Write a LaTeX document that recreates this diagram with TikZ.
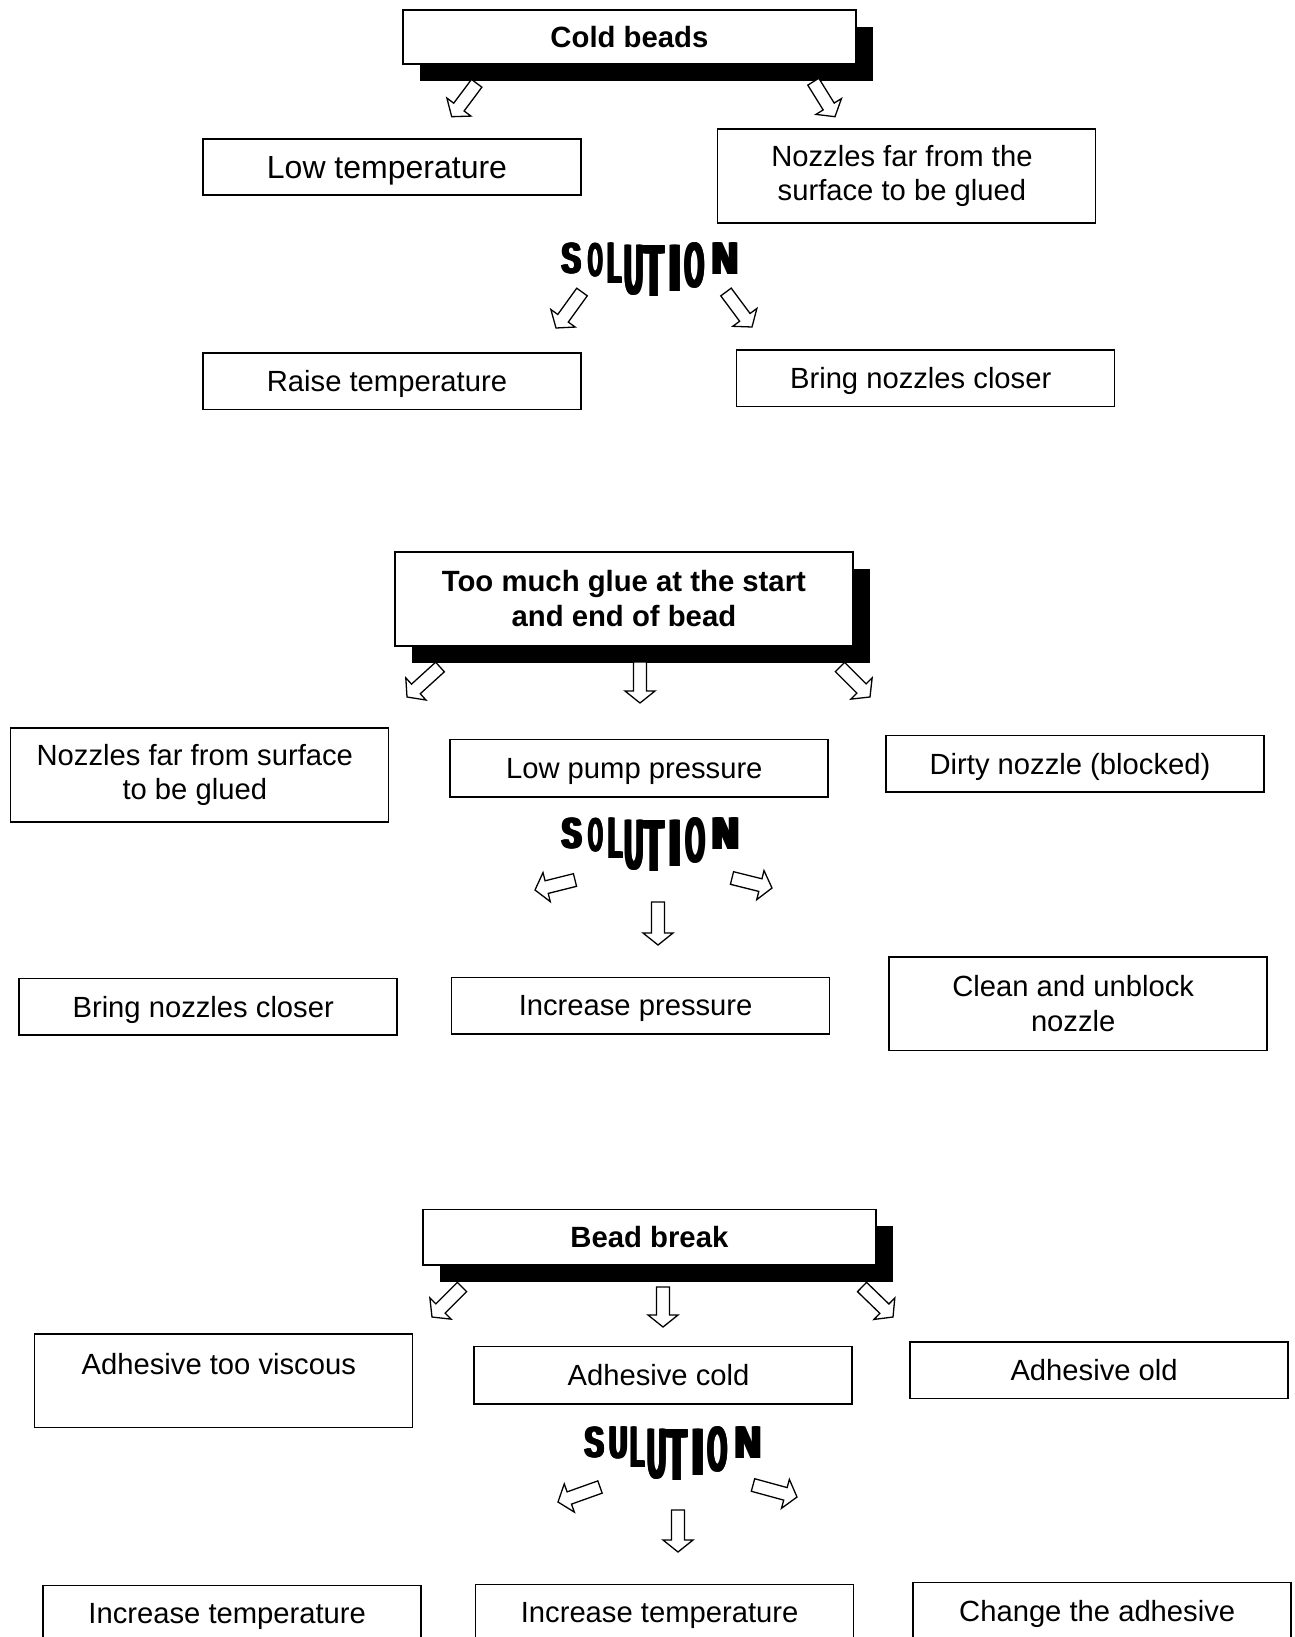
\documentclass[tikz,border=0pt]{standalone}
\usepackage{fontspec}
\setmainfont{Liberation Sans}
\usetikzlibrary{calc,shadows}
\newcommand\boxfont{\fontsize{29.2}{34.5}\selectfont}
\newcommand\titlefont{\fontsize{29.3}{35}\selectfont\bfseries}
\newcommand\solfont{\fontsize{40}{40}\selectfont\bfseries}
\newcommand\lsh[1]{#1\hspace*{9.4pt}}
\newcommand\fatl[1]{\rlap{#1}\rlap{\kern1.25pt#1}\rlap{\kern2.5pt#1}\rlap{\kern3.75pt#1}\kern5pt#1}
\newcommand\blockarr[2]{%
  \coordinate (bah) at ($(#2)!12pt!(#1)$);
  \filldraw[blockarrow] ($(#1)!6.5pt!90:(#2)$) -- ($(bah)!6.5pt!90:(#2)$) -- ($(bah)!15pt!90:(#2)$) -- (#2) -- ($(bah)!15pt!-90:(#2)$) -- ($(bah)!6.5pt!-90:(#2)$) -- ($(#1)!6.5pt!-90:(#2)$) -- cycle;}
\newcommand\solword[6]{% name, dx, dy, second letter, its xscale, its yscale
  \begin{scope}[shift={(#2,#3)}]
    \node[solL] (#1-1) at (571.7,243) {\scalebox{0.72}[1.09]{\fatl{S}}};
    \node[solL] (#1-2) at (595.5,243) {\scalebox{#5}[#6]{\fatl{#4}}};
    \node[solL] (#1-3) at (615,243) {\scalebox{0.56}[1.47]{\fatl{L}}};
    \node[solL] (#1-4) at (634,245) {\scalebox{0.64}[1.79]{\fatl{U}}};
    \node[solL] (#1-5) at (654,245) {\scalebox{0.79}[1.85]{\fatl{T}}};
    \node[solL] (#1-6) at (675,245) {\scalebox{0.94}[1.68]{\fatl{I}}};
    \node[solL] (#1-7) at (695,243) {\scalebox{0.62}[1.6]{\fatl{O}}};
    \node[solL] (#1-8) at (725.5,243) {\scalebox{0.89}[1.15]{\fatl{N}}};
  \end{scope}}
\begin{document}
\begin{tikzpicture}[x=1pt,y=-1pt,
  box/.style={draw, line width=1.6pt, fill=white, align=center, font=\boxfont,
    inner sep=0pt, minimum width=378, minimum height=56.4, text depth=0pt},
  tallbox/.style={draw, line width=1.6pt, fill=white, align=center, font=\boxfont,
    inner sep=0pt, minimum width=378, minimum height=93.5},
  title/.style={draw, line width=1.6pt, fill=white, align=center, font=\titlefont,
    inner sep=0pt, drop shadow={shadow xshift=17pt, shadow yshift=-17pt, fill=black, opacity=1}},
  blockarrow/.style={draw, fill=white, line width=1.3pt, line join=miter},
  solL/.style={anchor=north, inner sep=0pt, font=\solfont}]
\useasboundingbox (0,0) rectangle (1294,1637);
\fill[white] (0,0) rectangle (1294,1637);
\clip (0,0) rectangle (1294,1637);

% ---------- section 1 ----------
\node[title, minimum width=453, minimum height=54] (t1) at (629.4,37) {Cold beads};
\node[box] (lowtemp) at (391.7,167.1) {\fontsize{32}{34.5}\selectfont\lsh{Low temperature}};
\node[tallbox] (nozfar1) at (906.6,176) {\lsh{Nozzles far from the}\\\lsh{surface to be glued}};
\solword{sol1}{0}{0}{O}{0.47}{1.19}
\node[box] (raise) at (391.7,381.2) {\lsh{Raise temperature}};
\node[box] (closer1) at (925.4,378.1) {\lsh{Bring nozzles closer}};
\coordinate (a1s) at (476.7,83.3);  \coordinate (a1e) at (451.7,116.7);
\coordinate (a2s) at (813.3,81.7);  \coordinate (a2e) at (835,116.7);
\coordinate (s1as) at (582,292);    \coordinate (s1ae) at (556,328);
\coordinate (s1bs) at (726,292);    \coordinate (s1be) at (752,327);
\blockarr{a1s}{a1e}
\blockarr{a2s}{a2e}
\blockarr{s1as}{s1ae}
\blockarr{s1bs}{s1be}

% ---------- section 2 ----------
\node[title, minimum width=458, minimum height=94.4] (t2) at (623.9,599) {Too much glue at the start\\and end of bead};
\node[tallbox] (nozfar2) at (199.5,775) {\lsh{Nozzles far from surface}\\\lsh{to be glued}};
\node[box, minimum height=57.5] (lowpump) at (639,768.2) {\lsh{Low pump pressure}};
\node[box] (dirty) at (1074.7,763.5) {\lsh{Dirty nozzle (blocked)}};
\solword{sol2}{0.5}{575}{O}{0.47}{1.19}
\node[box] (closer2) at (207.9,1006.8) {\lsh{Bring nozzles closer}};
\node[box] (incpress) at (640.3,1005.8) {\lsh{Increase pressure}};
\node[tallbox] (clean) at (1077.9,1003.7) {\lsh{Clean and unblock}\\\lsh{nozzle}};
\coordinate (b1s) at (440,667);  \coordinate (b1e) at (407,697);
\coordinate (b2s) at (640,662);  \coordinate (b2e) at (640,703);
\coordinate (b3s) at (840,667);  \coordinate (b3e) at (870,697);
\coordinate (s2as) at (575,880); \coordinate (s2ae) at (535,890);
\coordinate (s2bs) at (732,878); \coordinate (s2be) at (772,888);
\coordinate (s2cs) at (658,902); \coordinate (s2ce) at (658,945);
\blockarr{b1s}{b1e}
\blockarr{b2s}{b2e}
\blockarr{b3s}{b3e}
\blockarr{s2as}{s2ae}
\blockarr{s2bs}{s2be}
\blockarr{s2cs}{s2ce}

% ---------- section 3 ----------
\node[title, minimum width=453, minimum height=55.7] (t3) at (649.4,1237.2) {Bead break};
\node[tallbox] (viscous) at (223.5,1380.7) {\lsh{Adhesive too viscous}\\\mbox{}};
\node[box, minimum height=57.4] (adcold) at (663.2,1375) {\lsh{Adhesive cold}};
\node[box] (adold) at (1098.8,1370.3) {\lsh{Adhesive old}};
\solword{sol3}{23}{1184}{U}{0.61}{1.15}
\node[box] (inctemp1) at (231.9,1613.6) {\lsh{Increase temperature}};
\node[box] (inctemp2) at (664.3,1612.6) {\lsh{Increase temperature}};
\node[box] (change) at (1101.9,1610.5) {\lsh{Change the adhesive}};
\coordinate (c1s) at (462,1287);  \coordinate (c1e) at (432,1317);
\coordinate (c2s) at (663,1287);  \coordinate (c2e) at (663,1327);
\coordinate (c3s) at (862,1287);  \coordinate (c3e) at (893,1317);
\coordinate (s3as) at (600,1487); \coordinate (s3ae) at (558,1502);
\coordinate (s3bs) at (753,1485); \coordinate (s3be) at (797,1497);
\coordinate (s3cs) at (678,1510); \coordinate (s3ce) at (678,1552);
\blockarr{c1s}{c1e}
\blockarr{c2s}{c2e}
\blockarr{c3s}{c3e}
\blockarr{s3as}{s3ae}
\blockarr{s3bs}{s3be}
\blockarr{s3cs}{s3ce}
\end{tikzpicture}
\end{document}
